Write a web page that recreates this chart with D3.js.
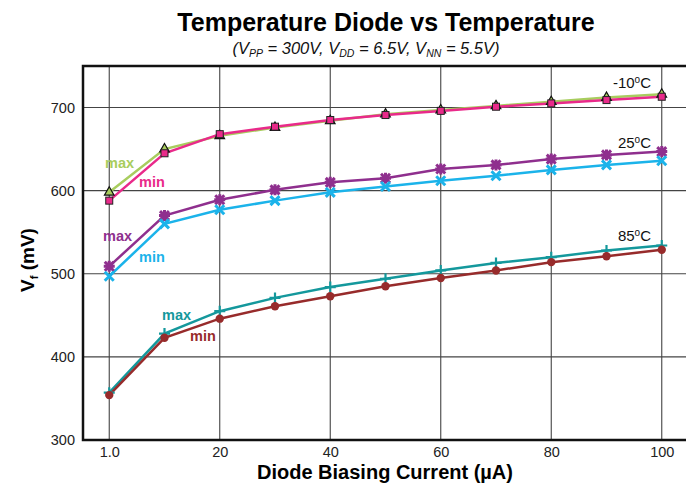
<!DOCTYPE html>
<html>
<head>
<meta charset="utf-8">
<script src="https://cdn.jsdelivr.net/npm/d3@7"></script>
<style>
  body { margin: 0; background: #fff; }
  svg { font-family: "Liberation Sans", Arial, sans-serif; }
</style>
</head>
<body>
<svg id="chart" width="686" height="486"></svg>
<script>
// bias current categories (evenly spaced on the chart)
var currents = [1, 10, 20, 30, 40, 50, 60, 70, 80, 90, 100];
var xTickLabels = { 1: "1.0", 20: "20", 40: "40", 60: "60", 80: "80", 100: "100" };
var yTicks = [300, 400, 500, 600, 700];

// Vf in mV
var m10max = [598, 650, 666, 676, 684, 692, 697, 702, 707, 712, 716];
var m10min = [588, 645, 668, 677, 685, 691, 696, 701, 705, 709, 713];
var p25max = [509, 570, 589, 601, 610, 615, 626, 631, 638, 643, 647];
var p25min = [497, 560, 577, 588, 598, 605, 612, 618, 625, 631, 636];
var p85max = [357, 428, 455, 471, 484, 494, 504, 513, 520, 528, 534];
var p85min = [354, 423, 446, 461, 473, 485, 495, 504, 514, 521, 529];

var series = [
  { values: m10max, color: "#a8cd5e", marker: "triangle" },
  { values: m10min, color: "#e92a8a", marker: "square" },
  { values: p25max, color: "#8f2f8e", marker: "asterisk" },
  { values: p25min, color: "#1bb3ea", marker: "cross" },
  { values: p85max, color: "#14989c", marker: "plus" },
  { values: p85min, color: "#972b2b", marker: "circle" }
];

var margin = { top: 66, right: -2, bottom: 46, left: 83 };
var width = 686 - margin.left - margin.right,
    height = 486 - margin.top - margin.bottom;

var svg = d3.select("#chart");
var g = svg.append("g").attr("transform", "translate(" + margin.left + "," + margin.top + ")");

var x = d3.scalePoint().domain(currents).range([0, width]).padding(0.475);
var y = d3.scaleLinear().domain([300, 750]).range([height, 0]);

// grid
g.selectAll(".vgrid").data(currents.filter(function(c) { return xTickLabels[c]; }))
  .enter().append("line")
  .attr("x1", function(d) { return x(d); }).attr("x2", function(d) { return x(d); })
  .attr("y1", 0).attr("y2", height)
  .attr("stroke", "#444").attr("stroke-width", 1.1);
g.selectAll(".hgrid").data(yTicks.slice(1))
  .enter().append("line")
  .attr("x1", 0).attr("x2", width)
  .attr("y1", function(d) { return y(d); }).attr("y2", function(d) { return y(d); })
  .attr("stroke", "#444").attr("stroke-width", 1.1);

// axes
var xAxis = g.append("g")
  .attr("transform", "translate(0," + height + ")")
  .call(d3.axisBottom(x).tickSize(0).tickPadding(7).tickFormat(function(d) { return xTickLabels[d] || ""; }));
xAxis.select(".domain").remove();
xAxis.selectAll("text").attr("font-size", "14.5px").attr("fill", "#222").attr("font-family", "Liberation Sans, Arial, sans-serif");

var yAxis = g.append("g")
  .call(d3.axisLeft(y).tickValues(yTicks).tickSize(0).tickPadding(8));
yAxis.select(".domain").remove();
yAxis.selectAll("text").attr("font-size", "14.5px").attr("fill", "#222").attr("font-family", "Liberation Sans, Arial, sans-serif");

// frame
g.append("path")
  .attr("d", "M" + (width + 5) + ",0H0V" + height + "H" + (width + 5))
  .attr("fill", "none").attr("stroke", "#111").attr("stroke-width", 2.5);

// lines
var line = d3.line()
  .x(function(d, i) { return x(currents[i]); })
  .y(function(d) { return y(d); });

series.forEach(function(s) {
  g.append("path")
    .datum(s.values)
    .attr("d", line)
    .attr("fill", "none")
    .attr("stroke", s.color)
    .attr("stroke-width", 2.5);
});

// markers
function drawMarker(sel, s) {
  var m = s.marker;
  if (m === "triangle") {
    sel.append("path").attr("d", d3.symbol().type(d3.symbolTriangle).size(40))
      .attr("fill", s.color).attr("stroke", "#111").attr("stroke-width", 1.2);
  } else if (m === "square") {
    sel.append("rect").attr("x", -3.5).attr("y", -3.5).attr("width", 7).attr("height", 7)
      .attr("fill", s.color).attr("stroke", "#222").attr("stroke-width", 1);
  } else if (m === "circle") {
    sel.append("circle").attr("r", 4.2).attr("fill", s.color);
  } else {
    var r = 5.5, paths = [];
    if (m === "plus" || m === "asterisk") paths.push("M" + (-r) + ",0H" + r + "M0," + (-r) + "V" + r);
    if (m === "cross" || m === "asterisk") paths.push("M-4.5,-4.5L4.5,4.5M-4.5,4.5L4.5,-4.5");
    sel.append("path").attr("d", paths.join(""))
      .attr("stroke", s.color).attr("stroke-width", m === "plus" ? 2.2 : 3).attr("fill", "none");
  }
}

series.forEach(function(s) {
  s.values.forEach(function(v, i) {
    var mk = g.append("g").attr("transform", "translate(" + x(currents[i]) + "," + y(v) + ")");
    drawMarker(mk, s);
  });
});

// series labels
var labels = [
  { text: "max", color: "#a8cd5e", x: 105, y: 168 },
  { text: "min", color: "#e92a8a", x: 139, y: 187 },
  { text: "max", color: "#8f2f8e", x: 103, y: 241 },
  { text: "min", color: "#1bb3ea", x: 139, y: 262 },
  { text: "max", color: "#14989c", x: 162, y: 320 },
  { text: "min", color: "#972b2b", x: 190, y: 341 }
];
svg.selectAll(".slabel").data(labels).enter().append("text")
  .attr("x", function(d) { return d.x; }).attr("y", function(d) { return d.y; })
  .attr("fill", function(d) { return d.color; })
  .attr("font-size", "14.5px").attr("font-weight", "bold")
  .text(function(d) { return d.text; });

var temps = [
  { t: "-10", y: 88 },
  { t: "25", y: 148 },
  { t: "85", y: 241 }
];
temps.forEach(function(d) {
  var t = svg.append("text").attr("x", 651).attr("y", d.y).attr("text-anchor", "end")
    .attr("font-size", "15px").attr("fill", "#111");
  t.append("tspan").text(d.t);
  t.append("tspan").attr("font-size", "10px").attr("dy", "-5").text("o");
  t.append("tspan").attr("dy", "5").text("C");
});

// titles
svg.append("text").attr("x", 386).attr("y", 31).attr("text-anchor", "middle")
  .attr("font-size", "25px").attr("font-weight", "bold").attr("fill", "#000")
  .text("Temperature Diode vs Temperature");

var sub = svg.append("text").attr("x", 366).attr("y", 54).attr("text-anchor", "middle")
  .attr("font-size", "16.5px").attr("font-style", "italic").attr("fill", "#111");
sub.append("tspan").text("(V");
sub.append("tspan").attr("font-size", "10.5px").attr("dy", "3").text("PP");
sub.append("tspan").attr("dy", "-3").text(" = 300V, V");
sub.append("tspan").attr("font-size", "10.5px").attr("dy", "3").text("DD");
sub.append("tspan").attr("dy", "-3").text(" = 6.5V, V");
sub.append("tspan").attr("font-size", "10.5px").attr("dy", "3").text("NN");
sub.append("tspan").attr("dy", "-3").text(" = 5.5V)");

svg.append("text").attr("x", 385).attr("y", 479).attr("text-anchor", "middle")
  .attr("font-size", "20px").attr("font-weight", "bold").attr("fill", "#000")
  .text("Diode Biasing Current (\u00b5A)");

var yl = svg.append("text").attr("transform", "translate(34,260) rotate(-90)").attr("text-anchor", "middle")
  .attr("font-size", "19px").attr("font-weight", "bold").attr("fill", "#000");
yl.append("tspan").text("V");
yl.append("tspan").attr("font-size", "11px").attr("dy", "4").text("f");
yl.append("tspan").attr("dy", "-4").text(" (mV)");
</script>
</body>
</html>
